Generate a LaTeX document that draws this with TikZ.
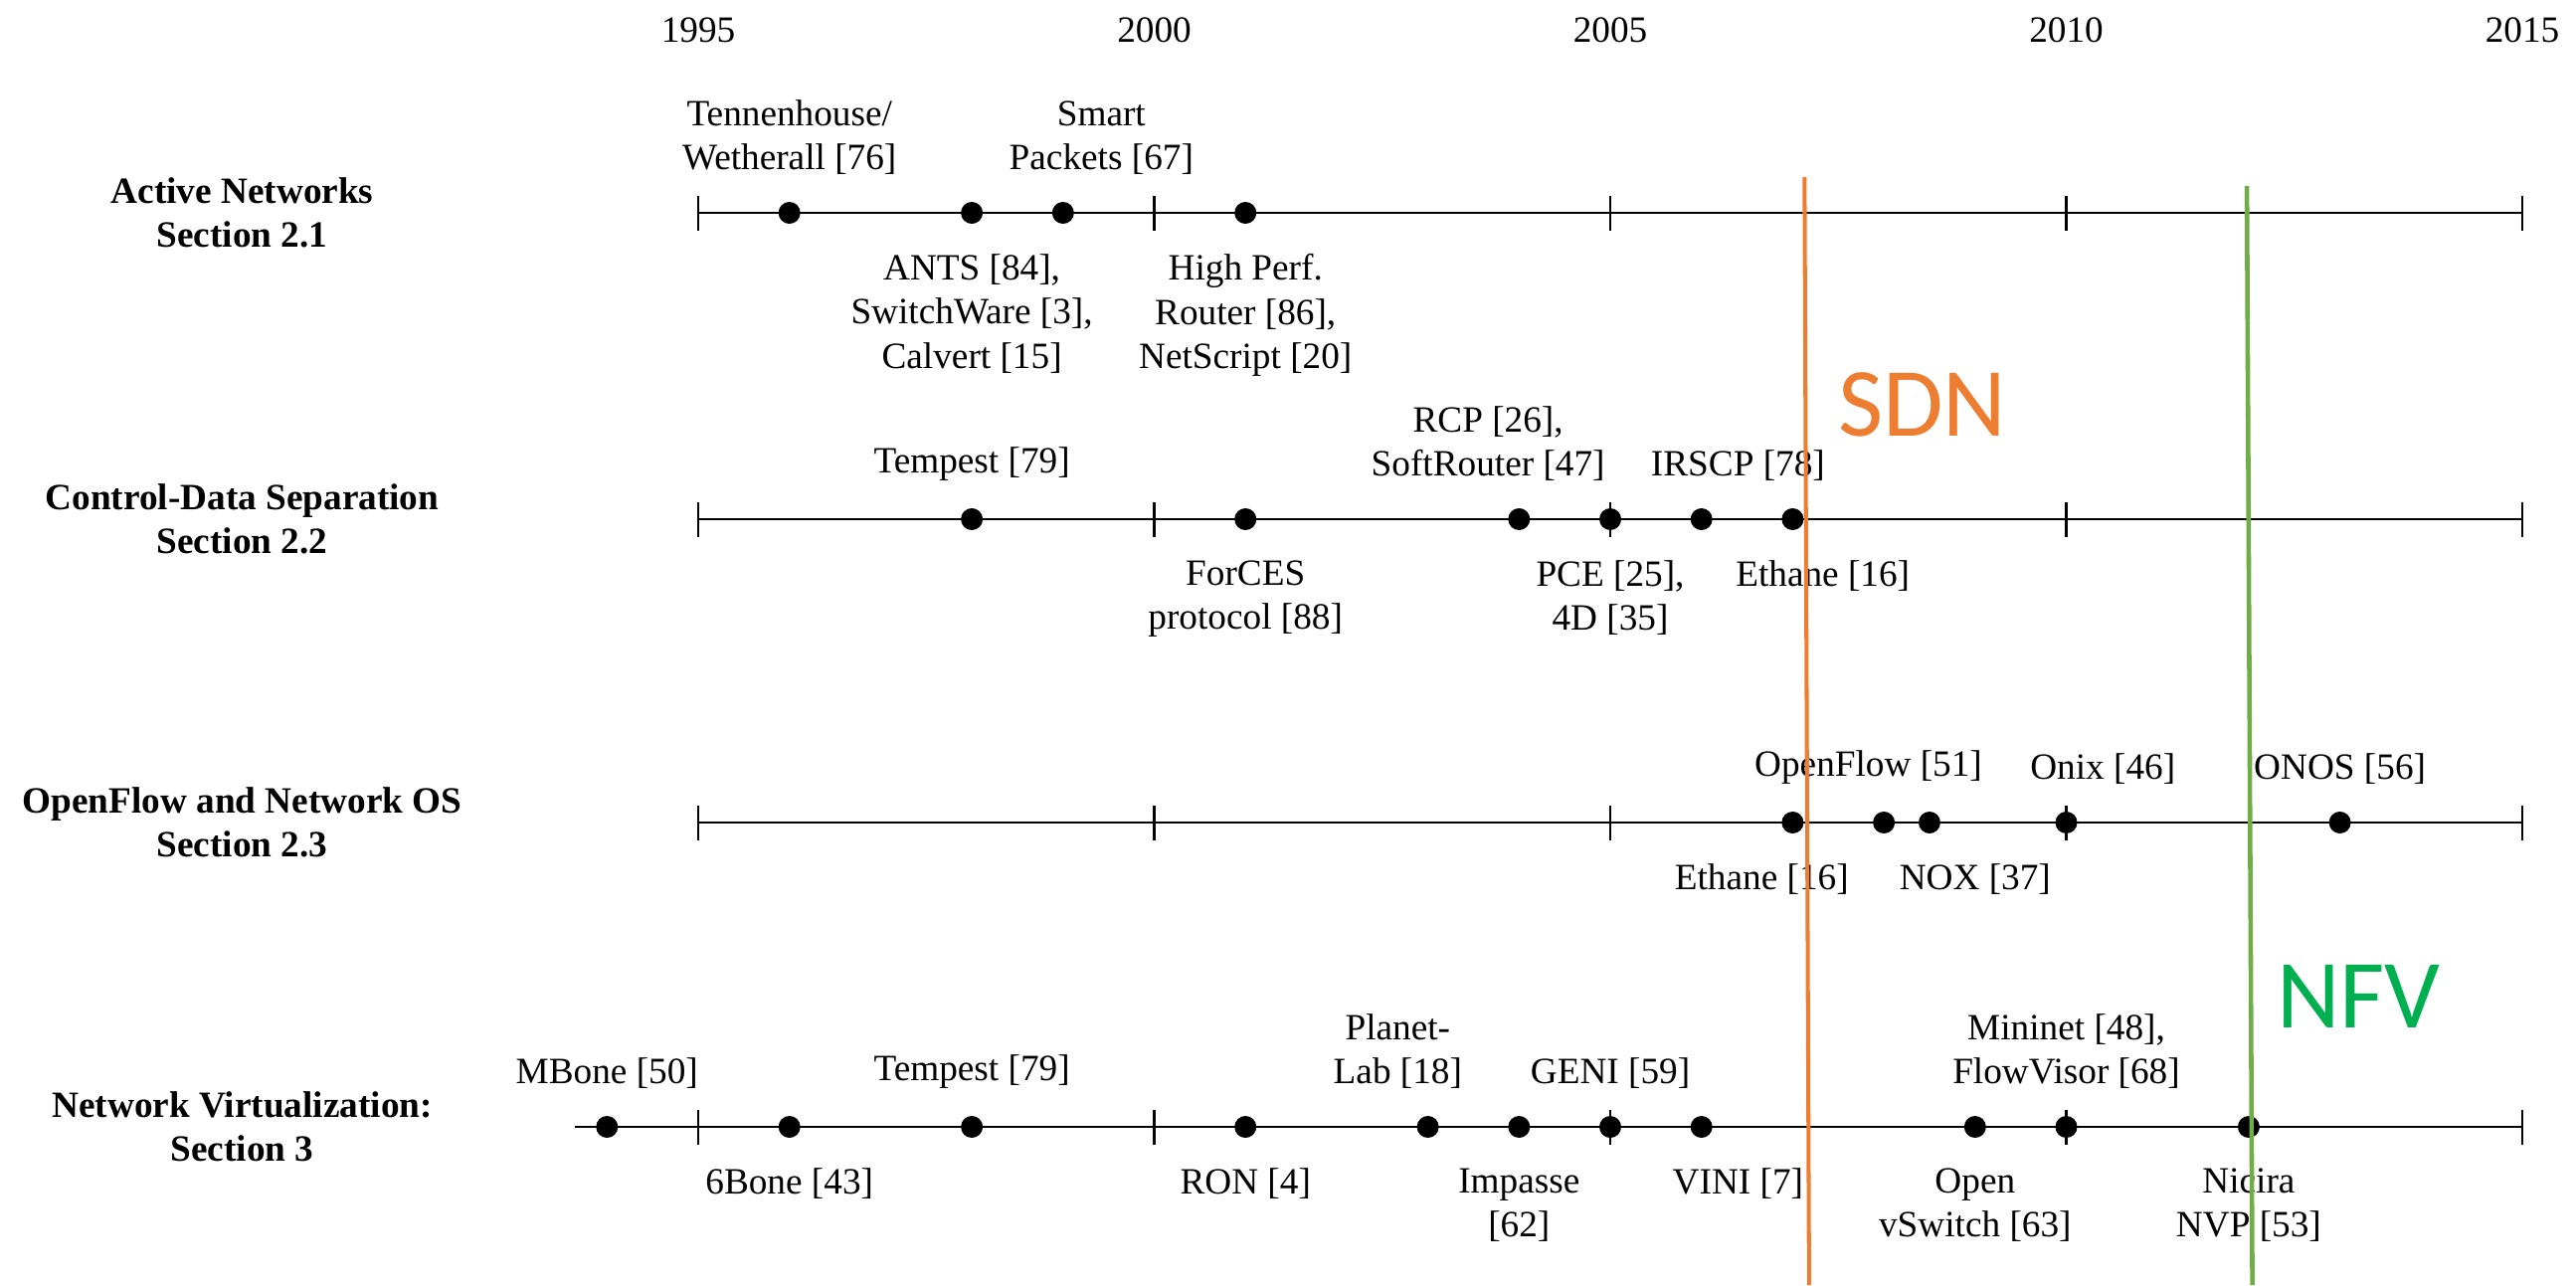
\documentclass[tikz,border=0pt]{standalone}
\usepackage{fontspec}
\setmainfont{Liberation Serif}
\newfontfamily\calfont{Carlito}
\usetikzlibrary{positioning}
\definecolor{sdnorange}{RGB}{237,125,49}
\definecolor{nfvline}{RGB}{112,173,71}
\definecolor{nfvgreen}{RGB}{0,176,80}

\begin{document}
\begin{tikzpicture}[
    dot/.style={circle, fill, inner sep=0pt, minimum size=0.22cm},
    axis/.style={line width=0.8pt},
    tick/.style={line width=0.6pt},
    toplbl/.style={anchor=south, inner sep=0pt, align=center},
    botlbl/.style={anchor=north, inner sep=0pt, align=center},
    title/.style={font=\fontsize{10.6}{12.4}\selectfont\bfseries, align=center},
    every node/.style={font=\fontsize{10.6}{12.6}\selectfont}
  ]
  \useasboundingbox (0,0) rectangle (25.9,12.92);
  \begin{scope}[shift={(7.02,0)}, x=0.917cm]
  % ---- Years ----
  \node (y95) at (0,12.62)  {1995};
  \node (y00) at (5,12.62)  {2000};
  \node (y05) at (10,12.62) {2005};
  \node (y10) at (15,12.62) {2010};
  \node (y15) at (20,12.62) {2015};

  % ---- Active Networks ----
  \node[title] (t1) at (-5,10.78) {Active Networks\\Section 2.1};
  \coordinate (r1s) at (0,10.78);
  \coordinate (r1e) at (20,10.78);
  \draw[axis] (r1s) -- (r1e);
  \draw[tick] (0,10.605) -- (0,10.955) (5,10.605) -- (5,10.955) (10,10.605) -- (10,10.955)
    (15,10.605) -- (15,10.955) (20,10.605) -- (20,10.955);
  \node[dot] (a96) at (1,10.78) {};
  \node[dot] (a98) at (3,10.78) {};
  \node[dot] (a99) at (4,10.78) {};
  \node[dot] (a01) at (6,10.78) {};
  \node[toplbl] (tenn) at (1,11.16)    {Tennenhouse/\\Wetherall [76]};
  \node[toplbl] (smart) at (4.42,11.16) {Smart\\Packets [67]};
  \node[botlbl] (ants) at (3,10.37)    {ANTS [84],\\SwitchWare [3],\\Calvert [15]};
  \node[botlbl] (hpr) at (6,10.37)     {High Perf.\\Router [86],\\NetScript [20]};

  % ---- Control-Data Separation ----
  \node[title] (t2) at (-5,7.70) {Control-Data Separation\\Section 2.2};
  \coordinate (r2s) at (0,7.70);
  \coordinate (r2e) at (20,7.70);
  \draw[axis] (r2s) -- (r2e);
  \draw[tick] (0,7.525) -- (0,7.875) (5,7.525) -- (5,7.875) (10,7.525) -- (10,7.875)
    (15,7.525) -- (15,7.875) (20,7.525) -- (20,7.875);
  \node[dot] (c98) at (3,7.70)  {};
  \node[dot] (c01) at (6,7.70)  {};
  \node[dot] (c04) at (9,7.70)  {};
  \node[dot] (c05) at (10,7.70) {};
  \node[dot] (c06) at (11,7.70) {};
  \node[dot] (c07) at (12,7.70) {};
  \node[toplbl] (temp1) at (3,8.08)  {Tempest [79]};
  \node[toplbl] (rcp) at (8.66,8.08) {RCP [26],\\SoftRouter [47]};
  \node[toplbl] (irscp) at (11.4,8.08) {IRSCP [78]};
  \node[botlbl] (forces) at (6,7.29) {ForCES\\protocol [88]};
  \node[botlbl] (pce) at (10,7.29)   {PCE [25],\\4D [35]};
  \node[botlbl] (eth1) at (12.33,7.29) {Ethane [16]};

  % ---- OpenFlow and Network OS ----
  \node[title] (t3) at (-5,4.65) {OpenFlow and Network OS\\Section 2.3};
  \coordinate (r3s) at (0,4.65);
  \coordinate (r3e) at (20,4.65);
  \draw[axis] (r3s) -- (r3e);
  \draw[tick] (0,4.475) -- (0,4.825) (5,4.475) -- (5,4.825) (10,4.475) -- (10,4.825)
    (15,4.475) -- (15,4.825) (20,4.475) -- (20,4.825);
  \node[dot] (o07) at (12,4.65)   {};
  \node[dot] (o08) at (13,4.65)   {};
  \node[dot] (o08b) at (13.5,4.65) {};
  \node[dot] (o10) at (15,4.65)   {};
  \node[dot] (o13) at (18,4.65)   {};
  \node[toplbl] (ofl) at (12.83,5.03) {OpenFlow [51]};
  \node[toplbl] (onix) at (15.4,5.03) {Onix [46]};
  \node[toplbl] (onos) at (18,5.03)   {ONOS [56]};
  \node[botlbl] (eth2) at (11.66,4.24) {Ethane [16]};
  \node[botlbl] (nox) at (14,4.24)    {NOX [37]};

  % ---- Network Virtualization ----
  \node[title] (t4) at (-5,1.59) {Network Virtualization:\\Section 3};
  \coordinate (r4s) at (-1.35,1.59);
  \coordinate (r4e) at (20,1.59);
  \draw[axis] (r4s) -- (r4e);
  \draw[tick] (0,1.415) -- (0,1.765) (5,1.415) -- (5,1.765) (10,1.415) -- (10,1.765)
    (15,1.415) -- (15,1.765) (20,1.415) -- (20,1.765);
  \node[dot] (v94) at (-1,1.59) {};
  \node[dot] (v96) at (1,1.59)  {};
  \node[dot] (v98) at (3,1.59)  {};
  \node[dot] (v01) at (6,1.59)  {};
  \node[dot] (v03) at (8,1.59)  {};
  \node[dot] (v04) at (9,1.59)  {};
  \node[dot] (v05) at (10,1.59) {};
  \node[dot] (v06) at (11,1.59) {};
  \node[dot] (v09) at (14,1.59) {};
  \node[dot] (v10) at (15,1.59) {};
  \node[dot] (v12) at (17,1.59) {};
  \node[toplbl] (mbone) at (-1,1.97)  {MBone [50]};
  \node[toplbl] (temp2) at (3,1.97)   {Tempest [79]};
  \node[toplbl] (plab) at (7.67,1.97) {Planet-\\Lab [18]};
  \node[toplbl] (geni) at (10,1.97)   {GENI [59]};
  \node[toplbl] (mini) at (15,1.97)   {Mininet [48],\\FlowVisor [68]};
  \node[botlbl] (sixb) at (1,1.18)    {6Bone [43]};
  \node[botlbl] (ron) at (6,1.18)     {RON [4]};
  \node[botlbl] (imp) at (9,1.18)     {Impasse\\{[62]}};
  \node[botlbl] (vini) at (11.4,1.18) {VINI [7]};
  \node[botlbl] (ovs) at (14,1.18)    {Open\\vSwitch [63]};
  \node[botlbl] (nvp) at (17,1.18)    {Nicira\\NVP [53]};

  % ---- SDN / NFV marks ----
  \coordinate (sdntop) at (12.13,11.14);
  \coordinate (sdnbot) at (12.18,0);
  \draw[sdnorange, line width=1.15pt] (sdntop) -- (sdnbot);
  \node[anchor=base west, inner sep=0pt, text=sdnorange, font=\calfont\fontsize{28}{28}\selectfont] (sdn) at (12.49,8.54) {SDN};
  \coordinate (nfvtop) at (16.98,11.05);
  \coordinate (nfvbot) at (17.04,0);
  \draw[nfvline, line width=1.3pt] (nfvtop) -- (nfvbot);
  \node[anchor=base west, inner sep=0pt, text=nfvgreen, font=\calfont\fontsize{28}{28}\selectfont] (nfv) at (17.30,2.59) {NFV};
  \end{scope}
\end{tikzpicture}
\end{document}
